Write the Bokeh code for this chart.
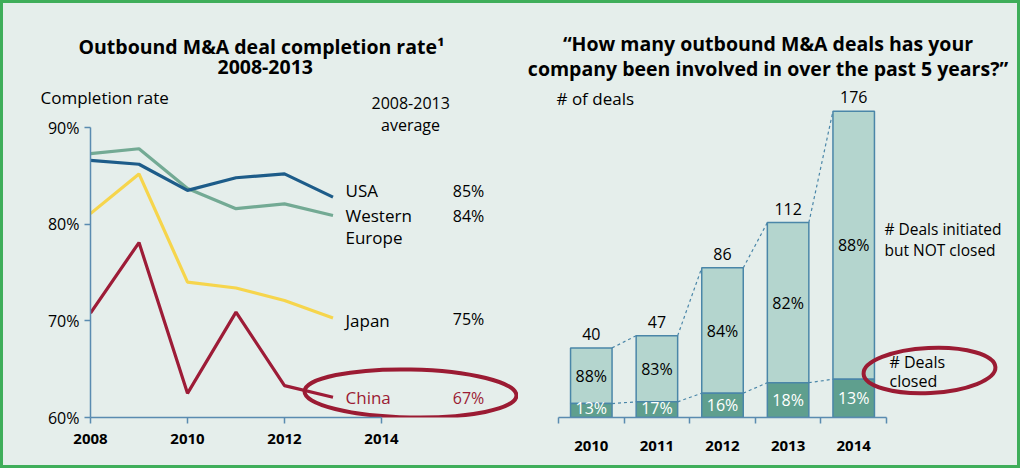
from bokeh.plotting import figure
from bokeh.models import Range1d, FixedTicker, PrintfTickFormatter, Title, ColumnDataSource, Row
from bokeh.embed import file_html
from bokeh.resources import INLINE
from bokeh.core.properties import value

# ---------------- data: left chart ----------------
years_left = [2008, 2009, 2010, 2011, 2012, 2013]
usa = [86.6, 86.2, 83.5, 84.8, 85.2, 82.8]
western_europe = [87.3, 87.8, 83.7, 81.6, 82.1, 80.9]
japan = [81.1, 85.2, 74.0, 73.4, 72.1, 70.3]
china = [70.8, 78.1, 62.5, 70.9, 63.3, 62.1]
series_labels = ["USA", "Western", "Europe", "Japan", "China"]
series_avg = ["85%", "84%", "75%", "67%"]
y_ticks_left = [60, 70, 80, 90]
x_ticks_left = [2008, 2010, 2012, 2014]

# ---------------- data: right chart ----------------
years_right = [2010, 2011, 2012, 2013, 2014]
total_deals = [40, 47, 86, 112, 176]
closed_deals = [8, 9, 14, 20, 22]
not_closed_pct = [88, 83, 84, 82, 88]
closed_pct = [13, 17, 16, 18, 13]

# ---------------- styling ----------------
FONT = "Open Sans"
BG = "#e5eeeb"
AXIS = "#5a8bb0"
RED = "#9b1b33"
C_USA, C_WE, C_JP, C_CN = "#1d5c89", "#73aa94", "#f6d54c", "#9d1c37"
LIGHT, DARK, EDGE = "#b4d5ce", "#5f9f8e", "#4a86a8"
W1, W2, H = 515, 499, 462

# ---------------- left figure ----------------
px_year = 48.5
px_pct = 290 / 30
p1 = figure(width=W1, height=H, title=None,
            x_range=Range1d(2008, 2008 + 428 / px_year), y_range=Range1d(60, 90 + 30 / px_pct),
            output_backend="svg", toolbar_location=None, frame_align=False,
            min_border_left=87, min_border_right=0, min_border_top=94, min_border_bottom=48,
            background_fill_color=BG, border_fill_color=BG, outline_line_color=None)
p1.grid.visible = False

ya = p1.yaxis[0]
ya.ticker = FixedTicker(ticks=y_ticks_left)
ya.formatter = PrintfTickFormatter(format="%d%%")
ya.bounds = (60, 90)
xa = p1.xaxis[0]
xa.ticker = FixedTicker(ticks=x_ticks_left)
xa.bounds = (2008, 2014)
for ax in (ya, xa):
    ax.axis_line_color = AXIS
    ax.axis_line_width = 1.5
    ax.major_tick_line_color = AXIS
    ax.major_tick_line_width = 1.5
    ax.major_tick_out = 6
    ax.major_tick_in = 0
    ax.minor_tick_line_color = None
    ax.major_label_text_font = FONT
    ax.major_label_text_color = "black"
ya.major_label_text_font_size = "16px"
ya.major_label_standoff = 5
xa.major_label_text_font_size = "15px"
xa.major_label_text_font_style = "bold"
xa.major_label_standoff = 10

for ys, c in ((japan, C_JP), (western_europe, C_WE), (usa, C_USA), (china, C_CN)):
    p1.line(years_left, ys, line_color=c, line_width=3.2)

def lx(page_x):
    return 2008 + (page_x - 90) / px_year

def ly(page_y):
    return 90 - (page_y - 127) / px_pct

lab_y = [ly(190), ly(215), ly(237), ly(320), ly(397)]
lab_col = ["black", "black", "black", "black", RED]
p1.text(x=[lx(345)] * 5, y=lab_y, text=series_labels, text_color=lab_col,
        text_font=value(FONT), text_font_size="17px", text_baseline="middle", text_align="left")
pct_y = [ly(190), ly(215), ly(318), ly(397)]
p1.text(x=[lx(468)] * 4, y=pct_y, text=series_avg, text_color=["black", "black", "black", RED],
        text_font=value(FONT), text_font_size="16px", text_baseline="middle", text_align="center")
p1.text(x=[lx(410)], y=[ly(124)], text=["average"], text_color="black",
        text_font=value(FONT), text_font_size="16px", text_baseline="middle", text_align="center")

p1.ellipse(x=[lx(410)], y=[ly(393)], width=[212], height=[48],
           width_units="screen", height_units="screen", angle=-0.02,
           fill_color=None, line_color=RED, line_width=4)

def title(p, text, size, standoff, offset=0, bold=False, align="left"):
    p.add_layout(Title(text=text, align=align, offset=offset, standoff=standoff,
                       text_font=FONT, text_font_size=size,
                       text_font_style="bold" if bold else "normal", text_color="black"), "above")

# stacked from the frame outward
title(p1, "2008-2013", "16px", -22, 371 - 90)
title(p1, "Completion rate", "17px", -23.5, 40 - 90)
title(p1, "2008-2013", "19.5px", 43, 217 - 90, True)
title(p1, "Outbound M&A deal completion rate¹", "19.5px", -46.5, 78 - 90, True)

# ---------------- right figure ----------------
px_cat = 65.6
px_deal = 1.74
x_start = 2009.5 - (558 - 518) / px_cat
p2 = figure(width=W2, height=H, title=None,
            x_range=Range1d(x_start, x_start + 499 / px_cat), y_range=Range1d(0, 331 / px_deal),
            output_backend="svg", toolbar_location=None, frame_align=False,
            min_border_left=0, min_border_right=0, min_border_top=83, min_border_bottom=48,
            background_fill_color=BG, border_fill_color=BG, outline_line_color=None)
p2.grid.visible = False
p2.yaxis.visible = False
xb = p2.xaxis[0]
xb.ticker = FixedTicker(ticks=years_right, minor_ticks=[y - 0.5 for y in years_right] + [years_right[-1] + 0.5])
xb.bounds = (years_right[0] - 0.5, years_right[-1] + 0.5)
xb.axis_line_color = AXIS
xb.axis_line_width = 1.5
xb.major_tick_line_color = None
xb.major_tick_out = 6
xb.minor_tick_line_color = AXIS
xb.minor_tick_line_width = 1.5
xb.minor_tick_out = 6
xb.minor_tick_in = 0
xb.major_label_text_font = FONT
xb.major_label_text_font_size = "15px"
xb.major_label_text_font_style = "bold"
xb.major_label_text_color = "black"
xb.major_label_standoff = 17

bw = 41.5 / px_cat
src = ColumnDataSource(dict(
    x=years_right, total=total_deals, closed=closed_deals,
    mid_up=[(c + t) / 2 for c, t in zip(closed_deals, total_deals)],
    mid_low=[max(c / 2, 5.2) for c in closed_deals],
    total_txt=[str(t) for t in total_deals],
    up_txt=[f"{v}%" for v in not_closed_pct],
    low_txt=[f"{v}%" for v in closed_pct],
))

x0 = [x + bw / 2 for x in years_right[:-1]]
x1 = [x - bw / 2 for x in years_right[1:]]
p2.segment(x0=x0, y0=total_deals[:-1], x1=x1, y1=total_deals[1:], line_color=EDGE, line_width=1.2, line_dash="3 3")
p2.segment(x0=x0, y0=closed_deals[:-1], x1=x1, y1=closed_deals[1:], line_color=EDGE, line_width=1.2, line_dash="3 3")

p2.vbar(x="x", bottom="closed", top="total", width=bw, source=src, fill_color=LIGHT, line_color=EDGE, line_width=1.5)
p2.vbar(x="x", bottom=0, top="closed", width=bw, source=src, fill_color=DARK, line_color=EDGE, line_width=1.5)

p2.text(x="x", y="total", text="total_txt", source=src, y_offset=-14, text_baseline="middle", text_align="center",
        text_font=value(FONT), text_font_size="16px", text_color="black")
p2.text(x="x", y="mid_up", text="up_txt", source=src, text_baseline="middle", text_align="center",
        text_font=value(FONT), text_font_size="16px", text_color="black")
p2.text(x="x", y="mid_low", text="low_txt", source=src, text_baseline="middle", text_align="center",
        text_font=value(FONT), text_font_size="16px", text_color="white")

def rx(page_x):
    return 2009.5 + (page_x - 558) / px_cat

def ry(page_y):
    return (417 - page_y) / px_deal

p2.ellipse(x=[rx(929)], y=[ry(370)], width=[132], height=[45], width_units="screen", height_units="screen",
           angle=0.05, fill_color=None, line_color=RED, line_width=4)

side_txt = ["# of deals", "# Deals initiated", "but NOT closed", "# Deals", "closed"]
side_x = [rx(556), rx(884), rx(884), rx(889), rx(889)]
side_y = [ry(98), ry(228), ry(249), ry(361), ry(380)]
side_sz = ["17px", "15.5px", "15.5px", "16px", "16px"]
p2.text(x=side_x, y=side_y, text=side_txt, text_font=value(FONT), text_font_size=side_sz,
        text_baseline="middle", text_align="left", text_color="black")

title(p2, "company been involved in over the past 5 years?”", "19.5px", 10, bold=True, align="center")
title(p2, "“How many outbound M&A deals has your", "19.5px", -19, bold=True, align="center")

layout = Row(children=[p1, p2], spacing=0,
             styles={"border": "3px solid #3fae5a", "background-color": BG})

open("out.html", "w").write(file_html(layout, INLINE))
